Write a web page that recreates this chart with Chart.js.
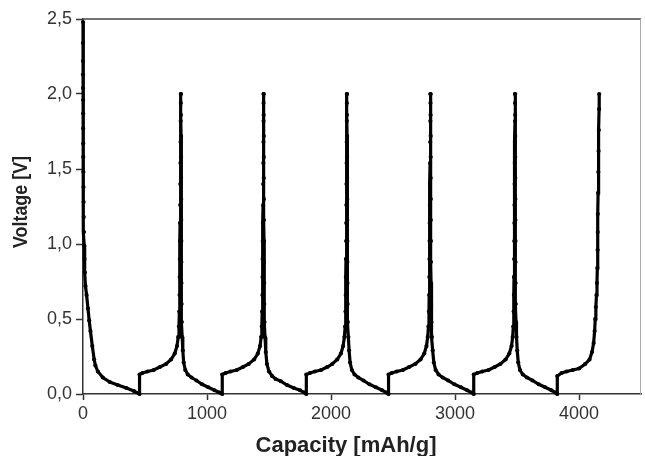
<!DOCTYPE html>
<html>
<head>
<meta charset="utf-8">
<script src="https://cdn.jsdelivr.net/npm/chart.js@4"></script>
<style>
  body { margin: 0; background: #fff; }
  #wrap { width: 645px; height: 456px; }
</style>
</head>
<body>
<div id="wrap"><canvas id="cycling"></canvas></div>
<script>
// galvanostatic cycling (capacity in mAh/g, voltage in V)
const xTicks = [0, 1000, 2000, 3000, 4000];
const yTicks = [0, 0.5, 1.0, 1.5, 2.0, 2.5];

const dis1Cap = [0, 0, 0, 0, 0, 1, 1, 1, 2, 2, 3, 4, 5, 6, 8, 10, 12, 15, 20, 29, 40, 50, 60, 75, 90, 100, 120, 160, 216, 280, 350, 410, 455];
const dis1V = [2.48, 2.34, 2.22, 2.13, 2.04, 1.96, 1.87, 1.77, 1.67, 1.58, 1.48, 1.38, 1.28, 1.18, 1.08, 0.99, 0.90, 0.81, 0.72, 0.66, 0.57, 0.49, 0.42, 0.32, 0.23, 0.19, 0.15, 0.11, 0.08, 0.06, 0.04, 0.02, 0.0];

const chg1Cap = [456, 480, 520, 570, 620, 670, 710, 740, 758, 768, 774, 777, 779, 780, 781, 782, 783, 784, 785, 786, 787, 788, 789, 789];
const chg1V = [0.13, 0.14, 0.15, 0.16, 0.18, 0.20, 0.23, 0.27, 0.32, 0.38, 0.45, 0.55, 0.66, 0.78, 0.90, 1.02, 1.14, 1.26, 1.40, 1.54, 1.68, 1.82, 1.94, 2.00];

const dis2Cap = [790, 790, 791, 791, 791, 792, 792, 793, 793, 794, 795, 797, 800, 805, 812, 825, 845, 875, 915, 960, 1010, 1060, 1100, 1122];
const dis2V = [2.00, 1.86, 1.72, 1.58, 1.44, 1.30, 1.16, 1.02, 0.88, 0.74, 0.60, 0.48, 0.38, 0.29, 0.21, 0.16, 0.13, 0.11, 0.09, 0.065, 0.045, 0.025, 0.01, 0.0];

const chg2Cap = [1123, 1150, 1190, 1240, 1290, 1336, 1380, 1410, 1428, 1437, 1442, 1445, 1447, 1448, 1449, 1450, 1451, 1452, 1453, 1454, 1455, 1456, 1456, 1456];
const chg2V = [0.13, 0.14, 0.15, 0.16, 0.18, 0.20, 0.23, 0.27, 0.32, 0.38, 0.45, 0.55, 0.66, 0.78, 0.90, 1.02, 1.14, 1.26, 1.40, 1.54, 1.68, 1.82, 1.94, 2.00];

const dis3Cap = [1457, 1457, 1458, 1458, 1458, 1459, 1459, 1460, 1460, 1461, 1462, 1464, 1468, 1474, 1483, 1500, 1525, 1553, 1595, 1645, 1700, 1750, 1785, 1800];
const dis3V = [2.00, 1.86, 1.72, 1.58, 1.44, 1.30, 1.16, 1.02, 0.88, 0.74, 0.60, 0.48, 0.38, 0.28, 0.20, 0.15, 0.12, 0.10, 0.085, 0.06, 0.04, 0.025, 0.01, 0.0];

const chg3Cap = [1801, 1830, 1870, 1920, 1970, 2010, 2050, 2080, 2098, 2108, 2114, 2117, 2119, 2120, 2121, 2122, 2123, 2124, 2125, 2126, 2127, 2128, 2128, 2128];
const chg3V = [0.13, 0.14, 0.15, 0.16, 0.18, 0.20, 0.23, 0.27, 0.32, 0.38, 0.45, 0.55, 0.66, 0.78, 0.90, 1.02, 1.14, 1.26, 1.40, 1.54, 1.68, 1.82, 1.94, 2.00];

const dis4Cap = [2129, 2129, 2130, 2130, 2130, 2131, 2131, 2132, 2132, 2133, 2134, 2136, 2140, 2146, 2154, 2168, 2190, 2220, 2262, 2310, 2362, 2412, 2447, 2463];
const dis4V = [2.00, 1.86, 1.72, 1.58, 1.44, 1.30, 1.16, 1.02, 0.88, 0.74, 0.60, 0.48, 0.38, 0.29, 0.21, 0.16, 0.13, 0.11, 0.09, 0.065, 0.045, 0.025, 0.01, 0.0];

const chg4Cap = [2464, 2490, 2530, 2580, 2630, 2680, 2722, 2752, 2770, 2780, 2786, 2790, 2792, 2793, 2794, 2795, 2796, 2797, 2798, 2799, 2800, 2801, 2802, 2802];
const chg4V = [0.13, 0.14, 0.15, 0.16, 0.18, 0.20, 0.23, 0.27, 0.32, 0.38, 0.45, 0.55, 0.66, 0.78, 0.90, 1.02, 1.14, 1.26, 1.40, 1.54, 1.68, 1.82, 1.94, 2.00];

const dis5Cap = [2803, 2803, 2804, 2804, 2804, 2805, 2805, 2806, 2806, 2807, 2808, 2810, 2814, 2820, 2829, 2844, 2868, 2900, 2945, 2995, 3048, 3098, 3133, 3150];
const dis5V = [2.00, 1.86, 1.72, 1.58, 1.44, 1.30, 1.16, 1.02, 0.88, 0.74, 0.60, 0.48, 0.38, 0.29, 0.21, 0.16, 0.13, 0.11, 0.09, 0.065, 0.045, 0.025, 0.01, 0.0];

const chg5Cap = [3151, 3180, 3220, 3270, 3320, 3366, 3408, 3438, 3456, 3465, 3470, 3473, 3475, 3476, 3477, 3478, 3479, 3480, 3481, 3482, 3483, 3484, 3484, 3484];
const chg5V = [0.13, 0.14, 0.15, 0.16, 0.18, 0.20, 0.23, 0.27, 0.32, 0.38, 0.45, 0.55, 0.66, 0.78, 0.90, 1.02, 1.14, 1.26, 1.40, 1.54, 1.68, 1.82, 1.94, 2.00];

const dis6Cap = [3485, 3485, 3486, 3486, 3486, 3487, 3487, 3488, 3488, 3489, 3490, 3492, 3496, 3502, 3510, 3524, 3547, 3580, 3625, 3675, 3727, 3777, 3810, 3824];
const dis6V = [2.00, 1.86, 1.72, 1.58, 1.44, 1.30, 1.16, 1.02, 0.88, 0.74, 0.60, 0.48, 0.38, 0.29, 0.21, 0.16, 0.13, 0.11, 0.09, 0.065, 0.045, 0.025, 0.01, 0.0];

const chg6Cap = [3825, 3860, 3900, 3950, 4000, 4050, 4085, 4105, 4118, 4126, 4131, 4136, 4141, 4145, 4148, 4150, 4151, 4152, 4154, 4156, 4158, 4160, 4162, 4163];
const chg6V = [0.12, 0.14, 0.15, 0.16, 0.17, 0.20, 0.23, 0.28, 0.34, 0.42, 0.50, 0.58, 0.66, 0.74, 0.84, 0.96, 1.08, 1.20, 1.34, 1.48, 1.62, 1.76, 1.90, 2.00];

const segments = [
  [dis1Cap, dis1V], [chg1Cap, chg1V],
  [dis2Cap, dis2V], [chg2Cap, chg2V],
  [dis3Cap, dis3V], [chg3Cap, chg3V],
  [dis4Cap, dis4V], [chg4Cap, chg4V],
  [dis5Cap, dis5V], [chg5Cap, chg5V],
  [dis6Cap, dis6V], [chg6Cap, chg6V]
];

const points = [];
segments.forEach(([cap, volt]) => {
  cap.forEach((c, i) => points.push({x: c, y: volt[i]}));
});

const fontFam = "Arial, 'Liberation Sans', sans-serif";
const tickFont = {family: fontFam, size: 18};

// frame on top/right plus the two axis titles
const framePlugin = {
  id: 'frame',
  afterDraw(chart) {
    const ctx = chart.ctx;
    const a = chart.chartArea;
    ctx.save();
    ctx.lineWidth = 1.5;
    ctx.strokeStyle = '#444';
    ctx.beginPath();
    ctx.moveTo(a.left, a.top);
    ctx.lineTo(a.right, a.top);
    ctx.stroke();
    ctx.lineWidth = 1;
    ctx.strokeStyle = '#aaa';
    ctx.beginPath();
    ctx.moveTo(a.right - 0.5, a.top);
    ctx.lineTo(a.right - 0.5, a.bottom);
    ctx.stroke();

    ctx.fillStyle = '#222';
    ctx.font = 'bold 22px ' + fontFam;
    ctx.textAlign = 'center';
    ctx.textBaseline = 'alphabetic';
    ctx.fillText('Capacity [mAh/g]', 346, 452);

    ctx.translate(27, 202);
    ctx.rotate(-Math.PI / 2);
    ctx.font = 'bold 21px ' + fontFam;
    ctx.fillText('Voltage [V]', 0, 0, 92);
    ctx.restore();
  }
};

const chart1 = document.getElementById('cycling');

new Chart(chart1, {
  type: 'scatter',
  data: {
    datasets: [{
      label: 'Voltage',
      data: points,
      showLine: true,
      borderColor: '#000',
      borderWidth: 3.2,
      pointRadius: 2.1,
      pointBackgroundColor: '#000',
      pointBorderWidth: 0,
      tension: 0,
      clip: false
    }]
  },
  options: {
    responsive: true,
    maintainAspectRatio: false,
    animation: false,
    layout: {padding: {left: 0, right: 1, top: 19, bottom: 0}},
    plugins: {
      legend: {display: false},
      tooltip: {enabled: false}
    },
    scales: {
      x: {
        type: 'linear',
        min: 0,
        max: 4500,
        afterBuildTicks: s => { s.ticks = xTicks.map(v => ({value: v})); },
        afterFit: s => { s.height = 62; },
        ticks: {
          font: tickFont,
          color: '#333',
          padding: 3,
          maxRotation: 0,
          callback: v => String(v)
        },
        grid: {drawOnChartArea: false, tickLength: 6, tickColor: '#333', tickWidth: 1.5},
        border: {display: true, color: '#333', width: 1.5}
      },
      y: {
        min: 0,
        max: 2.5,
        afterBuildTicks: s => { s.ticks = yTicks.map(v => ({value: v})); },
        afterFit: s => { s.width = 83; },
        ticks: {
          font: tickFont,
          color: '#333',
          padding: 4,
          callback: v => v.toFixed(1).replace('.', ',')
        },
        grid: {drawOnChartArea: false, tickLength: 7, tickColor: '#333', tickWidth: 1.5},
        border: {display: true, color: '#333', width: 1.5}
      }
    }
  },
  plugins: [framePlugin]
});
</script>
</body>
</html>
